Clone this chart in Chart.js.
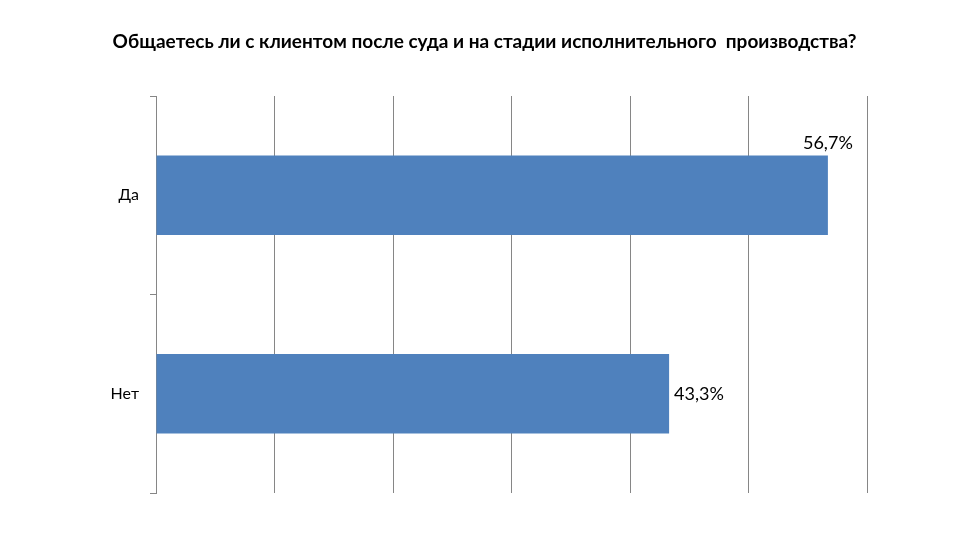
<!DOCTYPE html>
<html>
<head>
<meta charset="utf-8">
<script src="https://cdn.jsdelivr.net/npm/chart.js@4.4.0/dist/chart.umd.min.js"></script>
<style>
html,body{margin:0;padding:0;background:#fff;}
#wrap{width:960px;height:540px;position:relative;}
</style>
</head>
<body>
<div id="wrap"><canvas id="c" width="960" height="540"></canvas></div>
<script>
const titleText = 'Общаетесь ли с клиентом после суда и на стадии исполнительного  производства?';
const categories = ['Да', 'Нет'];
const values = [56.7, 43.3];
const valueLabels = ['56,7%', '43,3%'];
const axisMax = 60;
const axisStep = 10;

const FONT = 'Lato, "Liberation Sans", sans-serif';

const titlePlugin = {
  id: 'titleText',
  afterDraw(chart) {
    const ctx = chart.ctx;
    ctx.save();
    ctx.font = 'bold 19px ' + FONT;
    ctx.fillStyle = '#000';
    ctx.textAlign = 'center';
    ctx.textBaseline = 'middle';
    ctx.fillText(titleText, 484.5, 42);
    ctx.restore();
  }
};

const dataLabels = {
  id: 'dataLabels',
  afterDatasetsDraw(chart) {
    const ctx = chart.ctx;
    const meta = chart.getDatasetMeta(0);
    ctx.save();
    ctx.font = '18px ' + FONT;
    ctx.fillStyle = '#000';
    meta.data.forEach((bar, i) => {
      const txt = valueLabels[i];
      const w = ctx.measureText(txt).width;
      const top = bar.y - bar.height / 2;
      if (bar.x + 5 + w > chart.chartArea.right) {
        ctx.textAlign = 'center';
        ctx.textBaseline = 'bottom';
        ctx.fillText(txt, bar.x, top - 3);
      } else {
        ctx.textAlign = 'left';
        ctx.textBaseline = 'middle';
        ctx.fillText(txt, bar.x + 5, bar.y);
      }
    });
    ctx.restore();
  }
};

new Chart(document.getElementById('c'), {
  type: 'bar',
  data: {
    labels: categories,
    datasets: [{
      data: values,
      backgroundColor: '#4F81BD',
      borderWidth: 0,
      categoryPercentage: 1,
      barPercentage: 0.4
    }]
  },
  plugins: [titlePlugin, dataLabels],
  options: {
    indexAxis: 'y',
    responsive: false,
    animation: false,
    devicePixelRatio: 1,
    layout: { padding: { left: 0, right: 93, top: 96, bottom: 47 } },
    plugins: {
      legend: { display: false },
      tooltip: { enabled: false },
      title: { display: false }
    },
    scales: {
      x: {
        min: 0,
        max: axisMax,
        ticks: { display: false, stepSize: axisStep },
        border: { display: false },
        grid: { color: '#868686', lineWidth: 1, drawTicks: false }
      },
      y: {
        afterFit(scale) { scale.width = 156; },
        ticks: { color: '#000', font: { family: FONT, size: 16 }, padding: 11 },
        border: { display: true, color: '#868686', width: 1 },
        grid: { drawOnChartArea: false, drawTicks: true, tickLength: 6, color: '#868686', offset: true }
      }
    }
  }
});
</script>
</body>
</html>
